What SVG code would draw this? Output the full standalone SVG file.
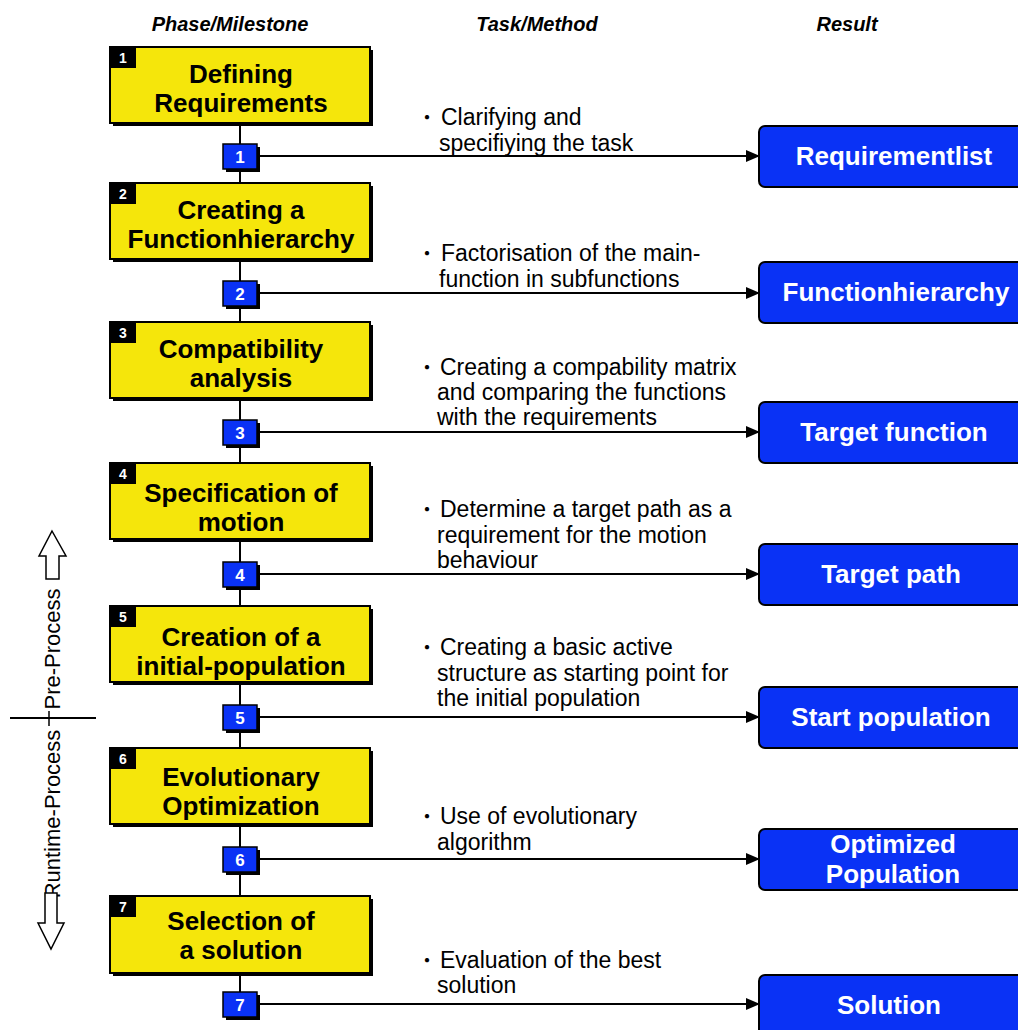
<svg xmlns="http://www.w3.org/2000/svg" width="1018" height="1030" viewBox="0 0 1018 1030">
<defs>
<style>
.hdr{font-family:"Liberation Sans",Arial,sans-serif;font-size:20px;font-weight:bold;font-style:italic;fill:#000;text-anchor:middle}
.ybox{fill:#f5e60b;stroke:#000;stroke-width:2}
.shadow{fill:#000}
.tab{fill:#000}
.tabn{font-family:"Liberation Sans",Arial,sans-serif;font-size:14px;font-weight:bold;fill:#fff;text-anchor:middle}
.title{font-family:"Liberation Sans",Arial,sans-serif;font-size:26px;font-weight:bold;fill:#000;text-anchor:middle}
.sbox{fill:#0a32f5;stroke:#000;stroke-width:1.5}
.sn{font-family:"Liberation Sans",Arial,sans-serif;font-size:17px;font-weight:bold;fill:#fff;text-anchor:middle}
.rbox{fill:#0a32f5;stroke:#000;stroke-width:2}
.rt{font-family:"Liberation Sans",Arial,sans-serif;font-size:26px;font-weight:bold;fill:#fff;text-anchor:middle}
.task{font-family:"Liberation Sans",Arial,sans-serif;font-size:23px;fill:#000}
.bul{font-family:"Noto Sans CJK JP",sans-serif;font-size:20px}
.side{font-family:"Liberation Sans",Arial,sans-serif;font-size:22px;fill:#000;text-anchor:middle}
.conn{stroke:#000;stroke-width:2;fill:none}
.harrow{fill:#fff;stroke:#000;stroke-width:1.5}
</style>
<marker id="ah" markerWidth="14" markerHeight="12" refX="13" refY="6" orient="auto" markerUnits="userSpaceOnUse">
<path d="M0,0 L14,6 L0,12 Z" fill="#000"/>
</marker>
</defs>
<rect width="1018" height="1030" fill="#fff"/>

<g id="headers">
<text class="hdr" x="230" y="31">Phase/Milestone</text>
<text class="hdr" x="537" y="31">Task/Method</text>
<text class="hdr" x="847" y="31">Result</text>
</g>

<g id="connectors">
<line class="conn" x1="240" y1="123" x2="240" y2="992"/>
<line class="conn" x1="258" y1="156" x2="759" y2="156" marker-end="url(#ah)"/>
<line class="conn" x1="258" y1="293" x2="759" y2="293" marker-end="url(#ah)"/>
<line class="conn" x1="258" y1="432" x2="759" y2="432" marker-end="url(#ah)"/>
<line class="conn" x1="258" y1="574" x2="759" y2="574" marker-end="url(#ah)"/>
<line class="conn" x1="258" y1="717" x2="759" y2="717" marker-end="url(#ah)"/>
<line class="conn" x1="258" y1="859" x2="759" y2="859" marker-end="url(#ah)"/>
<line class="conn" x1="258" y1="1004" x2="759" y2="1004" marker-end="url(#ah)"/>
</g>

<!-- Phase 1 -->
<g id="phase1">
<rect class="shadow" x="113" y="50" width="260" height="76"/>
<rect class="ybox" x="110" y="47" width="260" height="76"/>
<rect class="tab" x="110" y="47" width="26" height="21"/>
<text class="tabn" x="123" y="63">1</text>
<text class="title" x="241" y="83">Defining</text>
<text class="title" x="241" y="112">Requirements</text>
</g>
<g id="milestone1">
<rect class="shadow" x="226" y="147" width="34" height="25"/>
<rect class="sbox" x="223" y="144" width="34" height="25"/>
<text class="sn" x="240" y="163">1</text>
</g>
<g id="task1">
<text class="task" y="125"><tspan class="bul" x="417">・</tspan><tspan x="441">Clarifying and</tspan></text>
<text class="task" x="439" y="151">specifiying the task</text>
</g>
<g id="result1">
<rect class="rbox" x="759" y="126" width="290" height="61" rx="6"/>
<text class="rt" x="894" y="165">Requirementlist</text>
</g>

<!-- Phase 2 -->
<g id="phase2">
<rect class="shadow" x="113" y="186" width="260" height="76"/>
<rect class="ybox" x="110" y="183" width="260" height="76"/>
<rect class="tab" x="110" y="183" width="26" height="21"/>
<text class="tabn" x="123" y="199">2</text>
<text class="title" x="241" y="219">Creating a</text>
<text class="title" x="241" y="248">Functionhierarchy</text>
</g>
<g id="milestone2">
<rect class="shadow" x="226" y="284" width="34" height="25"/>
<rect class="sbox" x="223" y="281" width="34" height="25"/>
<text class="sn" x="240" y="300">2</text>
</g>
<g id="task2">
<text class="task" y="261"><tspan class="bul" x="417">・</tspan><tspan x="441">Factorisation of the main-</tspan></text>
<text class="task" x="439" y="287">function in subfunctions</text>
</g>
<g id="result2">
<rect class="rbox" x="759" y="262" width="290" height="61" rx="6"/>
<text class="rt" x="896" y="301">Functionhierarchy</text>
</g>

<!-- Phase 3 -->
<g id="phase3">
<rect class="shadow" x="113" y="325" width="260" height="76"/>
<rect class="ybox" x="110" y="322" width="260" height="76"/>
<rect class="tab" x="110" y="322" width="26" height="21"/>
<text class="tabn" x="123" y="338">3</text>
<text class="title" x="241" y="358">Compatibility</text>
<text class="title" x="241" y="387">analysis</text>
</g>
<g id="milestone3">
<rect class="shadow" x="226" y="423" width="34" height="25"/>
<rect class="sbox" x="223" y="420" width="34" height="25"/>
<text class="sn" x="240" y="439">3</text>
</g>
<g id="task3">
<text class="task" y="375"><tspan class="bul" x="417">・</tspan><tspan x="440">Creating a compability matrix</tspan></text>
<text class="task" x="437" y="400">and comparing the functions</text>
<text class="task" x="437" y="425">with the requirements</text>
</g>
<g id="result3">
<rect class="rbox" x="759" y="402" width="290" height="61" rx="6"/>
<text class="rt" x="894" y="441">Target function</text>
</g>

<!-- Phase 4 -->
<g id="phase4">
<rect class="shadow" x="113" y="466" width="260" height="76"/>
<rect class="ybox" x="110" y="463" width="260" height="76"/>
<rect class="tab" x="110" y="463" width="26" height="21"/>
<text class="tabn" x="123" y="479">4</text>
<text class="title" x="241" y="502">Specification of</text>
<text class="title" x="241" y="531">motion</text>
</g>
<g id="milestone4">
<rect class="shadow" x="226" y="565" width="34" height="25"/>
<rect class="sbox" x="223" y="562" width="34" height="25"/>
<text class="sn" x="240" y="581">4</text>
</g>
<g id="task4">
<text class="task" y="517"><tspan class="bul" x="417">・</tspan><tspan x="440">Determine a target path as a</tspan></text>
<text class="task" x="437" y="543">requirement for the motion</text>
<text class="task" x="437" y="568">behaviour</text>
</g>
<g id="result4">
<rect class="rbox" x="759" y="544" width="290" height="61" rx="6"/>
<text class="rt" x="891" y="583">Target path</text>
</g>

<!-- Phase 5 -->
<g id="phase5">
<rect class="shadow" x="113" y="609" width="260" height="76"/>
<rect class="ybox" x="110" y="606" width="260" height="76"/>
<rect class="tab" x="110" y="606" width="26" height="21"/>
<text class="tabn" x="123" y="622">5</text>
<text class="title" x="241" y="646">Creation of a</text>
<text class="title" x="241" y="675">initial-population</text>
</g>
<g id="milestone5">
<rect class="shadow" x="226" y="708" width="34" height="25"/>
<rect class="sbox" x="223" y="705" width="34" height="25"/>
<text class="sn" x="240" y="724">5</text>
</g>
<g id="task5">
<text class="task" y="655"><tspan class="bul" x="417">・</tspan><tspan x="440">Creating a basic active</tspan></text>
<text class="task" x="437" y="681">structure as starting point for</text>
<text class="task" x="437" y="706">the initial population</text>
</g>
<g id="result5">
<rect class="rbox" x="759" y="687" width="290" height="61" rx="6"/>
<text class="rt" x="891" y="726">Start population</text>
</g>

<!-- Phase 6 -->
<g id="phase6">
<rect class="shadow" x="113" y="751" width="260" height="76"/>
<rect class="ybox" x="110" y="748" width="260" height="76"/>
<rect class="tab" x="110" y="748" width="26" height="21"/>
<text class="tabn" x="123" y="764">6</text>
<text class="title" x="241" y="786">Evolutionary</text>
<text class="title" x="241" y="815">Optimization</text>
</g>
<g id="milestone6">
<rect class="shadow" x="226" y="850" width="34" height="25"/>
<rect class="sbox" x="223" y="847" width="34" height="25"/>
<text class="sn" x="240" y="866">6</text>
</g>
<g id="task6">
<text class="task" y="824"><tspan class="bul" x="417">・</tspan><tspan x="440">Use of evolutionary</tspan></text>
<text class="task" x="437" y="850">algorithm</text>
</g>
<g id="result6">
<rect class="rbox" x="759" y="829" width="290" height="61" rx="6"/>
<text class="rt" x="893" y="853">Optimized</text>
<text class="rt" x="893" y="883">Population</text>
</g>

<!-- Phase 7 -->
<g id="phase7">
<rect class="shadow" x="113" y="899" width="260" height="77"/>
<rect class="ybox" x="110" y="896" width="260" height="77"/>
<rect class="tab" x="110" y="896" width="26" height="21"/>
<text class="tabn" x="123" y="912">7</text>
<text class="title" x="241" y="930">Selection of</text>
<text class="title" x="241" y="959">a solution</text>
</g>
<g id="milestone7">
<rect class="shadow" x="226" y="995" width="34" height="25"/>
<rect class="sbox" x="223" y="992" width="34" height="25"/>
<text class="sn" x="240" y="1011">7</text>
</g>
<g id="task7">
<text class="task" y="968"><tspan class="bul" x="417">・</tspan><tspan x="440">Evaluation of the best</tspan></text>
<text class="task" x="437" y="993">solution</text>
</g>
<g id="result7">
<rect class="rbox" x="759" y="975" width="290" height="70" rx="6"/>
<text class="rt" x="889" y="1014">Solution</text>
</g>

<!-- Side process indicator -->
<g id="process-side">
<polygon class="harrow" points="52,531 66,556 59,556 59,579 46,579 46,556 39,556"/>
<text class="side" transform="rotate(-90 60 649)" x="60" y="649">Pre-Process</text>
<line class="conn" x1="10" y1="718" x2="96" y2="718"/>
<line x1="49" y1="711" x2="49" y2="726" stroke="#000" stroke-width="1.5"/>
<text class="side" transform="rotate(-90 60 814)" x="60" y="814">Runtime-Process</text>
<polygon class="harrow" points="45,893 57,893 57,923 64,923 51,949 38,923 45,923"/>
</g>
</svg>
